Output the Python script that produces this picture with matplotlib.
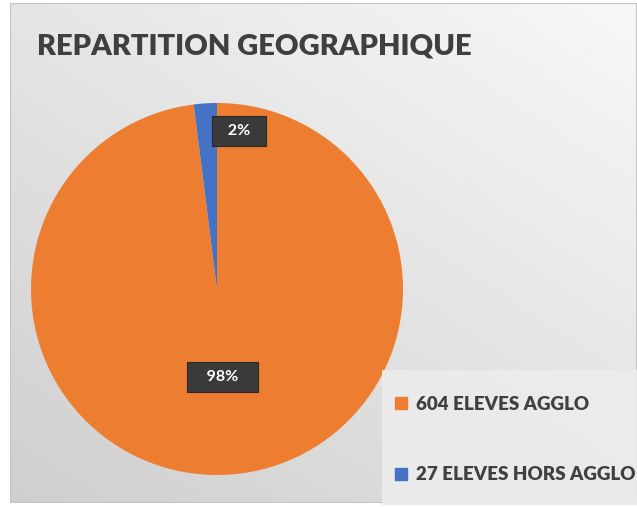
import numpy as np
import matplotlib
matplotlib.use("Agg")
import matplotlib.pyplot as plt
from matplotlib.patches import Rectangle
from matplotlib.lines import Line2D

title = "REPARTITION GEOGRAPHIQUE"
categories = ["604 ELEVES AGGLO", "27 ELEVES HORS AGGLO"]
counts = [604, 27]
shares = [98, 2]          # percentages as displayed on the chart
pct_labels = ["98%", "2%"]
colors = ["#ED7D31", "#4472C4"]

W, H = 637, 507
fig = plt.figure(figsize=(W / 100, H / 100), dpi=100)
fig.patch.set_facecolor("white")

# background panel with gradient
bg = fig.add_axes([10 / W, 4 / H, (W - 10) / W, (H - 7) / H])
bg.set_axis_off()
yy, xx = np.mgrid[0:1:200j, 0:1:200j]
t = (xx * 0.45 + yy * 0.55)
grad = 0.81 + 0.16 * t
bg.imshow(grad, cmap="gray", vmin=0, vmax=1, origin="lower", extent=[0, 1, 0, 1],
          aspect="auto", interpolation="bicubic")
bg.set_xlim(0, 1)
bg.set_ylim(0, 1)
bg.add_patch(Rectangle((0, 0), 1, 1, fill=False, edgecolor="#c4c4c4", lw=1.5))

# title
fig.text(37 / W, 1 - 47 / H, title, fontsize=21, fontweight="heavy",
         family="Lato", color="#3f3f3f", va="center", ha="left")

# pie
cx, cy, r = 217, 289, 186
ax = fig.add_axes([(cx - r) / W, (H - cy - r) / H, 2 * r / W, 2 * r / H])
wedges, _ = ax.pie(shares, colors=colors, startangle=90, counterclock=False,
                   radius=1.0, wedgeprops=dict(linewidth=0))
ax.set_xlim(-1, 1)
ax.set_ylim(-1, 1)
ax.set_aspect("equal")
ax.set_axis_off()

label_pos = [(0.03, -0.475), (0.118, 0.85)]
label_pad = ["   ", "  "]
for (lx, ly), txt, p in zip(label_pos, pct_labels, label_pad):
    ax.text(lx, ly, p + txt + p, ha="center", va="center", color="white",
            fontsize=11.5, fontweight="bold", family="Lato",
            bbox=dict(boxstyle="square,pad=0.5", facecolor="#3a3a3a",
                      edgecolor="#2a2a2a", linewidth=0.8))

# legend panel
fig.patches.append(Rectangle((382 / W, 2 / H), (W - 382) / W, 135 / H,
                             transform=fig.transFigure, facecolor="#ececec",
                             edgecolor="none", alpha=0.9, zorder=1))
handles = [Line2D([], [], marker="s", linestyle="none", markersize=8,
                  markerfacecolor=c, markeredgecolor=c) for c in colors]
leg = fig.legend(handles, categories, loc="upper left",
                 bbox_to_anchor=(375 / W, 1 - 379 / H), frameon=False,
                 handletextpad=0.3, labelspacing=2.85, handlelength=1.0,
                 prop=dict(family="Lato", weight="heavy", size=13.5),
                 labelcolor="#404040")

fig.savefig("out.png", dpi=100)
